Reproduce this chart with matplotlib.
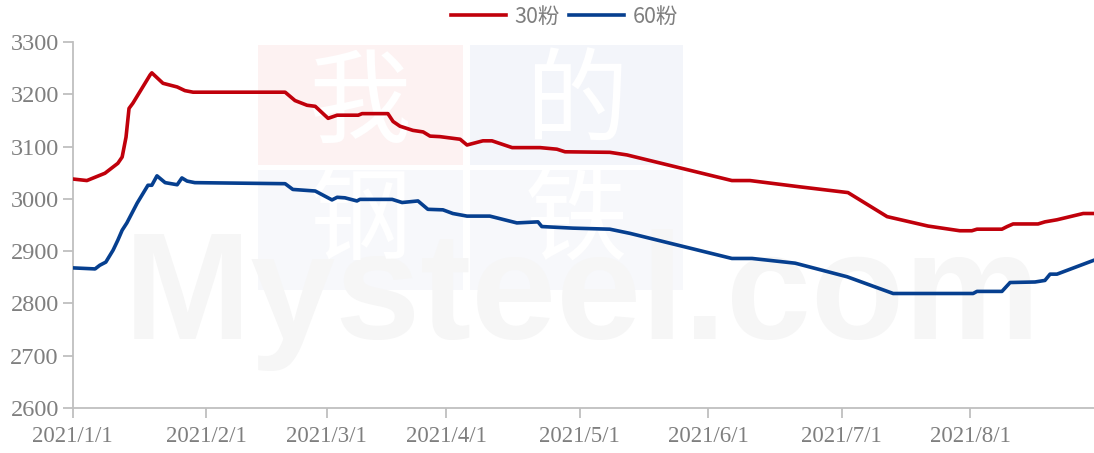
import matplotlib
matplotlib.use("Agg")
import matplotlib.pyplot as plt
from matplotlib.patches import Rectangle

# ---- data ----
tick_pos = [0, 31, 59.1, 86.9, 117.9, 147.8, 178.8, 208.7]
tick_labels = ["2021/1/1", "2021/2/1", "2021/3/1", "2021/4/1",
               "2021/5/1", "2021/6/1", "2021/7/1", "2021/8/1"]
y_ticks = [2600, 2700, 2800, 2900, 3000, 3100, 3200, 3300]

red_name = "30粉"
red_x = [0, 3.3, 7.5, 10.5, 11.5, 12.4, 13.1, 14.0, 18.0, 18.4, 21.0, 24.3, 26.1, 28.0,
         49.4, 51.7, 54.5, 56.4, 59.4, 61.5, 66.4, 67.3, 73.3, 74.5, 76.1, 79.1, 81.5,
         83.1, 85.4, 90.1, 91.7, 95.4, 97.5, 102.2, 108.7, 112.6, 114.5, 124.9, 128.9,
         153.3, 157.5, 169.1, 180.3, 189.4, 198.9, 206.3, 209.1, 210.3, 216.1, 217.3,
         218.7, 224.5, 226.1, 228.9, 235.0, 237.3]
red_y = [3038, 3035, 3049, 3068, 3080, 3118, 3173, 3183, 3237, 3241, 3221, 3214, 3207, 3204,
         3204, 3188, 3179, 3177, 3154, 3160, 3160, 3163, 3163, 3148, 3139, 3131, 3128,
         3120, 3119, 3114, 3103, 3111, 3111, 3098, 3098, 3095, 3090, 3089, 3084,
         3035, 3035, 3023, 3012, 2966, 2948, 2939, 2939, 2942, 2942, 2947,
         2952, 2952, 2956, 2960, 2972, 2972]

blue_name = "60粉"
blue_x = [0, 5.2, 6.3, 7.7, 9.4, 10.5, 11.5, 12.6, 15.0, 17.5, 18.4, 19.6, 21.5, 24.3,
          25.4, 26.6, 28.4, 49.4, 51.2, 56.4, 60.3, 61.5, 63.3, 66.1, 66.8, 74.3, 76.6,
          80.3, 82.6, 86.1, 88.4, 91.7, 97.0, 103.3, 108.2, 109.1, 116.3, 124.9, 129.6,
          153.3, 158.0, 168.0, 180.1, 190.8, 209.4, 210.3, 216.1, 218.0, 223.8, 226.1,
          227.3, 228.9, 237.3]
blue_y = [2868, 2866, 2873, 2879, 2902, 2921, 2940, 2954, 2992, 3026, 3026, 3044, 3031, 3027,
          3040, 3034, 3031, 3029, 3018, 3015, 2998, 3003, 3002, 2996, 2999, 2999, 2993,
          2996, 2980, 2979, 2972, 2967, 2967, 2954, 2956, 2947, 2944, 2942, 2934,
          2886, 2886, 2877, 2851, 2819, 2819, 2823, 2823, 2840, 2841, 2844,
          2856, 2856, 2882]

RED = "#C0000B"
BLUE = "#063F8F"
GRAY_TXT = "#7F7F7F"
AXIS_GRAY = "#BFBFBF"

W, H = 1094, 453
fig = plt.figure(figsize=(W / 100, H / 100), dpi=100)


def fx(px):
    return px / W


def fy(py):
    return 1 - py / H


# ---- faint watermark (figure decoration, behind the axes) ----
for (x0, y0, w, c) in [(258, 165, 205, "#FDF2F2"), (470, 165, 213, "#F3F5FA"),
                       (258, 290, 205, "#F7F8FB"), (470, 290, 213, "#F7F8FB")]:
    fig.patches.append(Rectangle((fx(x0), fy(y0)), fx(w), 120 / H, transform=fig.transFigure,
                                 facecolor=c, edgecolor="none", zorder=0))
for ch, cx, cy in [("我", 360, 105), ("的", 576, 105), ("钢", 360, 222), ("铁", 576, 222)]:
    fig.text(fx(cx), fy(cy), ch, family=["Noto Sans CJK SC", "DejaVu Sans"], fontsize=74,
             color="white", ha="center", va="center", zorder=0.5)
fig.text(fx(582), fy(300), "Mysteel.com", family="Liberation Sans", fontweight="bold",
         fontsize=110, color="#F6F6F6", ha="center", va="center", zorder=0.4)

ax = fig.add_axes([72.7 / W, (H - 408) / H, (W - 72.7) / W, 366 / H])
ax.set_zorder(2)
ax.patch.set_alpha(0)

ax.plot(red_x, red_y, color=RED, lw=2.6, label=red_name, solid_joinstyle="round", zorder=3)
ax.plot(blue_x, blue_y, color=BLUE, lw=2.6, label=blue_name, solid_joinstyle="round", zorder=3)

ax.set_xlim(0, (W - 72.7) / 4.3)
ax.set_ylim(2600, 3300)
ax.set_yticks(y_ticks)
ax.set_xticks(tick_pos)
ax.set_xticklabels(tick_labels)

for s in ["top", "right"]:
    ax.spines[s].set_visible(False)
for s in ["left", "bottom"]:
    ax.spines[s].set_color(AXIS_GRAY)
    ax.spines[s].set_linewidth(1.3)

ax.tick_params(axis="both", direction="out", length=7, width=1.3, color=AXIS_GRAY,
               labelcolor=GRAY_TXT, labelsize=16.5)
ax.tick_params(axis="y", labelsize=17.5, pad=3)
ax.tick_params(axis="x", pad=6)
for lab in ax.get_xticklabels() + ax.get_yticklabels():
    lab.set_family("Liberation Serif")

leg = fig.legend(loc="center", bbox_to_anchor=(0.516, 1 - 17 / H), ncol=2, frameon=False,
                 prop={"family": ["Noto Sans CJK SC", "DejaVu Sans"], "size": 15.5},
                 labelcolor=GRAY_TXT, handlelength=2.55, handletextpad=0.4, columnspacing=0.45,
                 borderpad=0, borderaxespad=0)
leg.set_zorder(5)

fig.savefig("out.png", dpi=100)
